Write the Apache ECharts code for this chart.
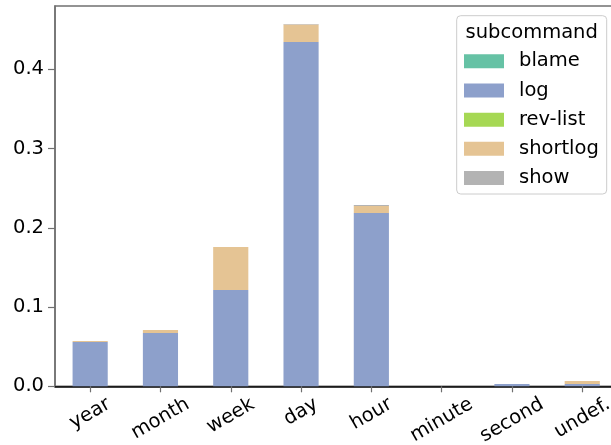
<!DOCTYPE html>
<html>
<head>
<meta charset="utf-8">
<script src="https://cdn.jsdelivr.net/npm/echarts@6/dist/echarts.min.js"></script>
<style>
  html, body { margin: 0; padding: 0; background: #ffffff; }
  #chart { width: 611px; height: 445px; }
</style>
</head>
<body>
<div id="chart"></div>
<script>
// Share of each time-unit keyword, split by git subcommand
const categories = ['year', 'month', 'week', 'day', 'hour', 'minute', 'second', 'undef.'];
const subcommands = ['blame', 'log', 'rev-list', 'shortlog', 'show'];
const blame    = [0, 0, 0, 0, 0, 0, 0, 0];
const log      = [0.0559, 0.0673, 0.1215, 0.4345, 0.2187, 0, 0.0029, 0.0029];
const revList  = [0, 0, 0, 0, 0, 0, 0, 0];
const shortlog = [0.0013, 0.0038, 0.0543, 0.0220, 0.0088, 0, 0, 0.0038];
const show     = [0, 0, 0, 0.0008, 0.0013, 0, 0, 0];
const yTicks   = [0, 0.1, 0.2, 0.3, 0.4];

const colors = {
  'blame': '#66c2a5',
  'log': '#8da0cb',
  'rev-list': '#a6d854',
  'shortlog': '#e5c494',
  'show': '#b3b3b3'
};
const seriesValues = {
  'blame': blame,
  'log': log,
  'rev-list': revList,
  'shortlog': shortlog,
  'show': show
};

const FONT = 'DejaVu Sans';
const FS = 19.5;

// Rotated tick labels: each label's rotated box is centred under its tick,
// with the top of that box a fixed distance below the axis. The downward
// shift is split into the label's own (rotated) x and y directions:
// x via right padding, y via an invisible spacer line above the text.
const measureCtx = document.createElement('canvas').getContext('2d');
measureCtx.font = FS + 'px "' + FONT + '"';
const SIN = Math.sin(Math.PI / 6), COS = Math.cos(Math.PI / 6);
const LINE_H = FS * 1.17;
const AXIS_Y = 386.3, LABEL_TOP = 393, LABEL_MARGIN = 6;
const shifts = categories.map(function (name) {
  const w = measureCtx.measureText(name).width;
  const centreY = LABEL_TOP + (w * SIN + LINE_H * COS) / 2;
  return centreY - (AXIS_Y + LABEL_MARGIN);
});
const spacerRich = {};
shifts.forEach(function (d, i) {
  spacerRich['g' + i] = { fontSize: 1, lineHeight: 2 * COS * d, color: 'transparent' };
});
const xAxisData = categories.map(function (name, i) {
  return {
    value: name,
    textStyle: { align: 'center', verticalAlign: 'middle', padding: [0, shifts[i], 0, 0] }
  };
});

const chart = echarts.init(document.getElementById('chart'), null, { renderer: 'canvas' });

const option = {
  animation: false,
  backgroundColor: '#ffffff',
  textStyle: { fontFamily: FONT },
  grid: {
    left: 55,
    top: 6,
    width: 562.4,
    height: 380.3,
    containLabel: false,
    outerBoundsMode: 'none',
    show: true,
    borderColor: '#707070',
    borderWidth: 1.5,
    backgroundColor: 'transparent'
  },
  xAxis: {
    type: 'category',
    data: xAxisData,
    boundaryGap: true,
    axisLine: { show: true, lineStyle: { color: '#000000', width: 1.5 } },
    axisTick: { show: true, alignWithLabel: true, length: 6, lineStyle: { color: '#707070', width: 1.2 } },
    axisLabel: {
      interval: 0,
      rotate: 30,
      align: 'center',
      verticalAlign: 'middle',
      margin: LABEL_MARGIN,
      fontSize: FS,
      fontFamily: FONT,
      color: '#000000',
      formatter: function (value, index) { return '{g' + index + '| }\n' + value; },
      rich: spacerRich
    },
    splitLine: { show: false }
  },
  yAxis: {
    type: 'value',
    min: 0,
    max: 0.48,
    axisLine: { show: true, lineStyle: { color: '#707070', width: 1.5 } },
    axisTick: { show: true, length: 7, customValues: yTicks, lineStyle: { color: '#707070', width: 1.2 } },
    axisLabel: {
      customValues: yTicks,
      formatter: function (v) { return v.toFixed(1); },
      margin: 11,
      fontSize: FS,
      fontFamily: FONT,
      color: '#000000'
    },
    splitLine: { show: false }
  },
  legend: {
    orient: 'vertical',
    left: 464,
    top: 51.25,
    padding: 0,
    itemWidth: 40,
    itemHeight: 14,
    itemGap: 9.2,
    icon: 'rect',
    data: subcommands,
    textStyle: { fontSize: FS, fontFamily: FONT, color: '#000000', padding: [0, 0, 0, 10] }
  },
  graphic: [
    {
      type: 'rect',
      z: 1,
      shape: { x: 456.7, y: 15.7, width: 150, height: 178.3, r: 4 },
      style: { fill: 'rgba(255,255,255,0.8)', stroke: '#cccccc', lineWidth: 1 }
    },
    {
      type: 'text',
      z: 2,
      x: 531.7,
      y: 33,
      style: {
        text: 'subcommand',
        font: FS + 'px "' + FONT + '"',
        fill: '#000000',
        textAlign: 'center',
        textVerticalAlign: 'middle'
      }
    }
  ],
  series: subcommands.map(function (name) {
    return {
      name: name,
      type: 'bar',
      stack: 'total',
      barWidth: '50%',
      data: seriesValues[name],
      itemStyle: { color: colors[name] },
      emphasis: { disabled: true }
    };
  })
};

chart.setOption(option);
</script>
</body>
</html>
